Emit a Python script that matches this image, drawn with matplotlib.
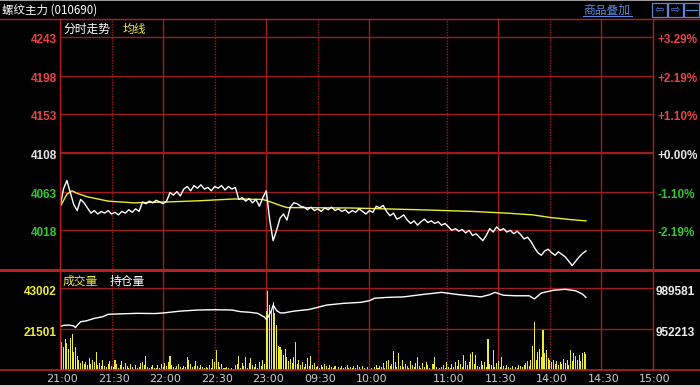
import numpy as np
import matplotlib
matplotlib.use("Agg")
import matplotlib.pyplot as plt
from matplotlib.lines import Line2D
from matplotlib.patches import Rectangle
from matplotlib import transforms

plt.rcParams['font.family'] = ['Noto Sans CJK SC', 'DejaVu Sans']

W, H = 700, 387

TITLE = "螺纹主力 (010690)"
TIME_TICKS = [0, 30, 60, 90, 120, 150, 180, 225, 255, 285, 315, 345]
TIME_LABELS = ["21:00", "21:30", "22:00", "22:30", "23:00", "09:30",
               "10:00", "11:00", "11:30", "14:00", "14:30", "15:00"]
SOLID_TICKS = [60, 120, 180, 255, 315]

PRICE_LEVELS = [4243, 4198, 4153, 4108, 4063, 4018]
PCT_LABELS = ["+3.29%", "+2.19%", "+1.10%", "+0.00%", "-1.10%", "-2.19%"]
PRICE_COLORS = ["#e84444", "#e84444", "#e84444", "#e6e6e6", "#34c834", "#34c834"]
PRICE_LOW = 3973

VOL_LEVELS = [43002, 21501]
OI_LEVELS = [989581, 952213]

# last price, one value every 2 minutes
price = [
    4045, 4066, 4076, 4062, 4048, 4041, 4054, 4050, 4044, 4038,
    4041, 4037, 4040, 4038, 4041, 4037, 4039, 4036, 4040, 4038,
    4042, 4039, 4043, 4040, 4051, 4049, 4052, 4050, 4053, 4051,
    4049, 4052, 4062, 4059, 4063, 4058, 4066, 4069, 4064, 4070,
    4067, 4071, 4066, 4068, 4064, 4069, 4067, 4070, 4065, 4069,
    4066, 4068, 4054, 4056, 4052, 4055, 4050, 4054, 4046, 4056,
    4064, 4030, 4006, 4018, 4032, 4037, 4030, 4045, 4050, 4049,
    4046, 4045, 4042, 4045, 4041, 4043, 4040, 4044, 4042, 4045,
    4041, 4043, 4040, 4042, 4038, 4041, 4039, 4043, 4040, 4037,
    4041, 4039, 4046, 4044, 4047, 4040, 4035, 4038, 4031, 4033,
    4036, 4030, 4026, 4029, 4024, 4028, 4031, 4027, 4029, 4026,
    4028, 4024, 4026, 4022, 4018, 4020, 4017, 4019, 4015, 4018,
    4012, 4014, 4010, 4006, 4012, 4020, 4016, 4022, 4018, 4020,
    4016, 4018, 4014, 4017, 4013, 4008, 4010, 4005, 3998, 3992,
    3989, 3994, 3996, 3992, 3989, 3993, 3990, 3987, 3982, 3977,
    3982, 3987, 3991, 3994,
]

avg_minutes = [0, 4, 7, 10, 16, 28, 43, 62, 82, 101, 118, 124, 128, 132,
               169, 208, 240, 260, 275, 285, 297, 306]
avg_values = [4045, 4060, 4064, 4061, 4057, 4052, 4050, 4051, 4052.5, 4054.5,
              4054, 4050, 4047, 4044.5, 4044, 4042, 4040, 4038, 4036, 4033,
              4030.5, 4029]

# volume, one bar per minute
volume = [
    25700, 14800, 12200, 16500, 14000, 11000, 16700, 19000, 9500, 12000,
    7500, 5000, 3500, 4500, 3000, 4000, 2500, 6500, 3000, 5000,
    4000, 9600, 2500, 3500, 2000, 5500, 2000, 1500, 3000, 4500,
    2000, 1500, 5000, 3000, 1000, 2500, 4500, 1500, 3500, 2000,
    1000, 3000, 1500, 500, 2500, 1000, 1500, 3500, 4000, 2500,
    7300, 1500, 1000, 1500, 2500, 800, 1200, 2500, 1000, 3000,
    1500, 3500, 2000, 4000, 7300, 2500, 1500, 1200, 2000, 3000,
    1500, 1000, 2000, 1500, 7000, 5000, 3000, 1500, 2000, 4500,
    2000, 1000, 2500, 1500, 800, 1500, 1000, 2500, 1200, 6000,
    4000, 10500, 4000, 1500, 3000, 1000, 800, 1500, 1000, 500,
    1000, 300, 2500, 3000, 7300, 1000, 3500, 2000, 7000, 1000,
    3500, 6500, 2500, 1500, 3000, 1000, 4000, 2000, 5500, 3000,
    31000, 41500, 34000, 31500, 35800, 30000, 23600, 12500, 12000, 10500,
    8000, 11000, 7000, 4500, 6000, 3500, 7000, 14800, 3000, 5000,
    2500, 4000, 1500, 3000, 6500, 2000, 7500, 2500, 3500, 1500,
    2000, 1000, 2500, 1500, 3000, 2000, 1000, 2500, 1500, 1000,
    2000, 500, 1500, 1000, 2000, 800, 1500, 2500, 1000, 1500,
    800, 2000, 1000, 2500, 1500, 500, 2000, 1000, 300, 1500,
    500, 800, 200, 1500, 2500, 1000, 2000, 1500, 3500, 1000,
    4500, 5500, 2000, 3000, 10000, 4000, 1500, 9000, 2000, 5500,
    1500, 3000, 2000, 1000, 4500, 2500, 1500, 3500, 7000, 2000,
    1000, 3500, 1500, 4000, 2500, 1000, 500, 3000, 7000, 1500,
    500, 1000, 1500, 2500, 1000, 4000, 1500, 1000, 3000, 1500,
    4000, 2000, 5000, 3000, 1500, 8000, 4500, 2500, 4000, 8500,
    9500, 3000, 8000, 2000, 1500, 4500, 2500, 4000, 1500, 16200,
    3000, 2500, 10500, 1500, 3500, 4500, 1500, 7000, 2000, 1000,
    2500, 1500, 1000, 2000, 500, 1500, 1000, 2500, 2000, 1500,
    2500, 3500, 4500, 2000, 5500, 12500, 25300, 5500, 9500, 11000,
    7000, 21000, 9000, 10500, 6500, 5000, 4000, 5500, 3000, 4500,
    2500, 4000, 3000, 6000, 3500, 5000, 2500, 10500, 4500, 9000,
    7500, 5000, 8000, 4500, 9000, 9500, 8500,
]

oi_minutes = [0, 2, 5, 8, 9, 10, 12, 15, 20, 25, 28, 35, 45, 55, 60, 70, 80,
              90, 100, 105, 110, 115, 119, 120, 121, 123, 124, 126, 128, 130,
              136, 145, 155, 165, 175, 180, 183, 190, 200, 210, 222, 232, 245,
              250, 253, 258, 265, 273, 276, 280, 287, 294, 300, 304, 306]
oi_values = [954300, 955500, 955800, 955000, 953500, 955500, 958900, 959500,
             961900, 963500, 965600, 966000, 966500, 966300, 966800, 968500,
             969500, 969800, 969500, 968000, 967500, 966500, 963000, 961000,
             963000, 969000, 974000, 969000, 967000, 966800, 968500, 970000,
             974000, 975600, 976500, 978000, 980200, 981000, 981500, 983500,
             985600, 983500, 981500, 983500, 985600, 983000, 982500, 982500,
             979600, 985000, 987500, 988400, 987000, 984000, 981000]

GRID = "#a01c1c"
SEP = "#b82020"
YELLOW = "#ecec34"
LABEL_FONT = "Liberation Sans"


def fy(py):
    return 1 - py / H


fig = plt.figure(figsize=(W / 100, H / 100), dpi=100, facecolor="black")

# price panel: pixel rows 19..269, 4243 sits at row 37, 3973 at row 269
ax_p = fig.add_axes([60 / W, fy(269), 593 / W, 250 / H], facecolor="black")
per_px = (PRICE_LEVELS[0] - PRICE_LOW) / (269 - 37)
ax_p.set_ylim(PRICE_LOW, PRICE_LEVELS[0] + 18 * per_px)
ax_p.set_xlim(0, TIME_TICKS[-1])

# volume panel: pixel rows 270..370, 43002 at row 288
ax_v = fig.add_axes([60 / W, fy(370), 593 / W, 100 / H], facecolor="black")
vol_px = VOL_LEVELS[0] / (370 - 288)
ax_v.set_ylim(0, VOL_LEVELS[0] + 18 * vol_px)
ax_v.set_xlim(0, TIME_TICKS[-1])
ax_oi = ax_v.twinx()
oi_px = (OI_LEVELS[0] - OI_LEVELS[1]) / 41
ax_oi.set_ylim(OI_LEVELS[1] - 41 * oi_px, OI_LEVELS[0] + 18 * oi_px)

for a in (ax_p, ax_v, ax_oi):
    a.set_xticks([])
    a.set_yticks([])
    for s in a.spines.values():
        s.set_visible(False)

# grid
for v in PRICE_LEVELS:
    ax_p.axhline(v, color=GRID, lw=1.6 if v == PRICE_LEVELS[3] else 1.0, zorder=1)
for v in VOL_LEVELS:
    ax_v.axhline(v, color=GRID, lw=1.0, zorder=1)
for t in TIME_TICKS[1:-1]:
    ls = "-" if t in SOLID_TICKS else (0, (1, 1))
    for a in (ax_p, ax_v):
        a.axvline(t, color=GRID, lw=1.0, ls=ls, zorder=1)

# frame lines
for px in (60, 653):
    fig.add_artist(Line2D([px / W, px / W], [fy(19), fy(370)], color=SEP, lw=1.0))
fig.add_artist(Line2D([0, 1], [fy(19), fy(19)], color=SEP, lw=1.0))
fig.add_artist(Line2D([0, 1], [fy(269.5), fy(269.5)], color=SEP, lw=2.2))
fig.add_artist(Line2D([0, 1], [fy(370), fy(370)], color=SEP, lw=1.2))
fig.add_artist(Rectangle((0, fy(1)), 1, 1 / H, color="#9a9a9a", lw=0))
fig.add_artist(Rectangle((0, 0), 1, 2.5 / H, color="#d4d0c8", lw=0))

# series
ax_p.plot(avg_minutes, avg_values, color=YELLOW, lw=1.0, zorder=3)
ax_p.plot(np.arange(len(price)) * 2, price, color="white", lw=1.0, zorder=4)
ax_v.bar(np.arange(len(volume)), volume, width=0.6, color=YELLOW, lw=0, zorder=3)
ax_oi.plot(oi_minutes, oi_values, color="white", lw=1.0, zorder=4)

# axis labels
left_p = transforms.offset_copy(ax_p.get_yaxis_transform(), fig=fig, x=-3, y=-3, units="dots")
right_p = transforms.offset_copy(ax_p.get_yaxis_transform(), fig=fig, x=4, y=-3, units="dots")
for v, pct, c in zip(PRICE_LEVELS, PCT_LABELS, PRICE_COLORS):
    ax_p.text(0, v, str(v), transform=left_p, ha="right", va="center", color=c,
              fontsize=8.5, fontweight="bold", family=LABEL_FONT)
    ax_p.text(1, v, pct, transform=right_p, ha="left", va="center", color=c,
              fontsize=8.5, fontweight="bold", family=LABEL_FONT)

left_v = transforms.offset_copy(ax_v.get_yaxis_transform(), fig=fig, x=-3, y=-4, units="dots")
for v in VOL_LEVELS:
    ax_v.text(0, v, str(v), transform=left_v, ha="right", va="center", color=YELLOW,
              fontsize=8.5, fontweight="bold", family=LABEL_FONT)
right_oi = transforms.offset_copy(ax_oi.get_yaxis_transform(), fig=fig, x=3, y=-4, units="dots")
for v in OI_LEVELS:
    ax_oi.text(1, v, str(v), transform=right_oi, ha="left", va="center", color="#eeeeee",
               fontsize=8.5, fontweight="bold", family=LABEL_FONT)

time_tr = transforms.offset_copy(ax_v.get_xaxis_transform(), fig=fig, x=2, y=-8.5, units="dots")
for t, lab in zip(TIME_TICKS, TIME_LABELS):
    ax_v.text(t, 0, lab, transform=time_tr, ha="center", va="center", color="#cccccc",
              fontsize=8, family="DejaVu Sans")

# header texts
fig.text(2 / W, fy(10), TITLE, color="white", fontsize=8.3, va="center", ha="left")
fig.text(63 / W, fy(29), "分时走势", color="white", fontsize=8.5, va="center")
fig.text(123 / W, fy(29), "均线", color=YELLOW, fontsize=8.5, va="center")
fig.text(63 / W, fy(281), "成交量", color=YELLOW, fontsize=8.5, va="center")
fig.text(110 / W, fy(281), "持仓量", color="white", fontsize=8.5, va="center")

BLUE = "#5a86dc"
fig.text(583 / W, fy(10), "商品叠加", color=BLUE, fontsize=8.5, va="center")
fig.add_artist(Line2D([583 / W, 632 / W], [fy(16), fy(16)], color=BLUE, lw=0.8))
for i, glyph in enumerate(["⇦", "⇨", ""]):
    x0 = 652 + 16 * i
    fig.add_artist(Rectangle((x0 / W, fy(17)), 15 / W, 14 / H, fill=False,
                             edgecolor=BLUE, lw=0.9))
    if glyph:
        fig.text((x0 + 7.5) / W, fy(10), glyph, color=BLUE, fontsize=8,
                 ha="center", va="center", family="DejaVu Sans")
fig.add_artist(Line2D([(684 + 2) / W, (684 + 13) / W], [fy(10), fy(10)], color=BLUE, lw=0.9))

fig.savefig("out.png", dpi=100, facecolor=fig.get_facecolor())
